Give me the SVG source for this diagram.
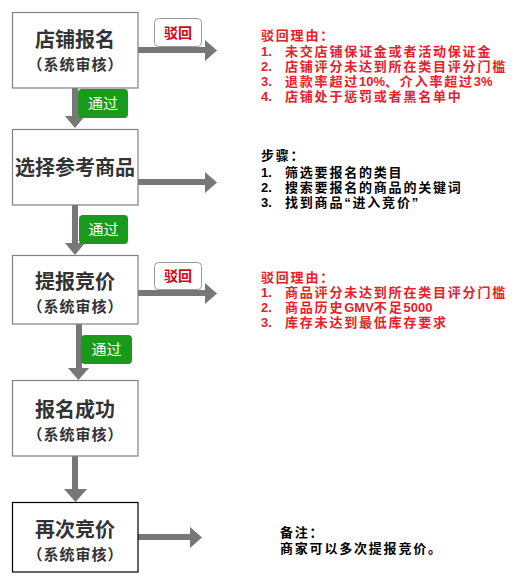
<svg xmlns="http://www.w3.org/2000/svg" width="521" height="584" viewBox="0 0 521 584">
<style>
.box{fill:#fff;stroke:#808080;stroke-width:1.2}
.box5{fill:#fff;stroke:#000;stroke-width:1.2}
.title{font-family:"Liberation Sans","Noto Sans CJK SC",sans-serif;font-weight:bold;font-size:20px;fill:#333;text-anchor:middle}
.sub{font-family:"Liberation Sans","Noto Sans CJK SC",sans-serif;font-weight:bold;font-size:15px;letter-spacing:1px;fill:#333;text-anchor:middle}
.conn{stroke:#777;stroke-width:6;fill:none}
.head{fill:#777}
.rej{fill:#fff;stroke:#999;stroke-width:1}
.rejt{font-family:"Liberation Sans","Noto Sans CJK SC",sans-serif;font-weight:bold;font-size:14px;fill:#d9001b;text-anchor:middle}
.pass{fill:#1a9a1a}
.passt{font-family:"Liberation Sans","Noto Sans CJK SC",sans-serif;font-size:15px;fill:#fff;text-anchor:middle}
.note{font-family:"Liberation Sans","Noto Sans CJK SC",sans-serif;font-weight:bold;font-size:13px}
.c{letter-spacing:1.8px}
.l{letter-spacing:0}
.red{fill:#e8202a}
.blk{fill:#000}
</style>
<g id="connectors">
<line class="conn" x1="138" y1="50" x2="205" y2="50"/><polygon class="head" points="205,40 217,50.5 205,61"/>
<line class="conn" x1="75" y1="88" x2="75" y2="116"/><polygon class="head" points="65,116 85,116 75,128"/>
<line class="conn" x1="138" y1="182" x2="205" y2="182"/><polygon class="head" points="205,172 217,182.5 205,193"/>
<line class="conn" x1="75" y1="205" x2="75" y2="243"/><polygon class="head" points="65,243 85,243 75,255"/>
<line class="conn" x1="138" y1="293" x2="205" y2="293"/><polygon class="head" points="205,283 217,293.5 205,304"/>
<line class="conn" x1="79" y1="324" x2="79" y2="368"/><polygon class="head" points="68,368 89,368 78.5,380"/>
<line class="conn" x1="75" y1="456" x2="75" y2="489"/><polygon class="head" points="64,489 87,489 75.5,502"/>
<line class="conn" x1="138" y1="537" x2="190" y2="537"/><polygon class="head" points="190,527 202,537.5 190,548"/>
</g>
<g id="badges">
<rect class="rej" x="154.5" y="18.5" width="47" height="28" rx="4"/><text class="rejt" x="178" y="38">驳回</text>
<rect class="pass" x="78" y="89" width="50" height="29" rx="4"/><text class="passt" x="103" y="109">通过</text>
<rect class="pass" x="79" y="215" width="49" height="29" rx="4"/><text class="passt" x="103.5" y="235">通过</text>
<rect class="rej" x="154.5" y="262.5" width="47" height="27" rx="4"/><text class="rejt" x="178" y="281">驳回</text>
<rect class="pass" x="81" y="335" width="51" height="29" rx="4"/><text class="passt" x="106.5" y="355">通过</text>
</g>
<g id="n1"><rect class="box" x="12.5" y="12.5" width="125.5" height="75.5"/><text class="title" x="75" y="47">店铺报名</text><text class="sub" x="75.5" y="70">（系统审核）</text></g>
<g id="n2"><rect class="box" x="12.5" y="129.5" width="125.5" height="75.5"/><text class="title" x="75" y="175">选择参考商品</text></g>
<g id="n3"><rect class="box" x="12.5" y="255.5" width="125.5" height="68.5"/><text class="title" x="75" y="289">提报竞价</text><text class="sub" x="75.5" y="312">（系统审核）</text></g>
<g id="n4"><rect class="box" x="12.5" y="380.5" width="125.5" height="75.5"/><text class="title" x="75" y="417">报名成功</text><text class="sub" x="75.5" y="440">（系统审核）</text></g>
<g id="n5"><rect class="box5" x="12.5" y="502.5" width="125.5" height="69.5"/><text class="title" x="75" y="537">再次竞价</text><text class="sub" x="75.5" y="560">（系统审核）</text></g>
<g id="note1" class="note red">
<text x="261" y="40" class="c">驳回理由：</text>
<text y="56"><tspan x="261">1.</tspan><tspan x="285" class="c">未交店铺保证金或者活动保证金</tspan></text>
<text y="71"><tspan x="261">2.</tspan><tspan x="285" class="c">店铺评分未达到所在类目评分门槛</tspan></text>
<text y="86"><tspan x="261">3.</tspan><tspan x="285" class="c">退款率超过<tspan class="l">10%</tspan>、介入率超过<tspan class="l">3%</tspan></tspan></text>
<text y="101"><tspan x="261">4.</tspan><tspan x="285" class="c">店铺处于惩罚或者黑名单中</tspan></text>
</g>
<g id="note2" class="note blk">
<text x="261" y="160" class="c">步骤：</text>
<text y="177"><tspan x="261">1.</tspan><tspan x="285" class="c">筛选要报名的类目</tspan></text>
<text y="192"><tspan x="261">2.</tspan><tspan x="285" class="c">搜索要报名的商品的关键词</tspan></text>
<text y="207"><tspan x="261">3.</tspan><tspan x="285" class="c">找到商品“进入竞价”</tspan></text>
</g>
<g id="note3" class="note red">
<text x="261" y="282" class="c">驳回理由：</text>
<text y="297"><tspan x="261">1.</tspan><tspan x="285" class="c">商品评分未达到所在类目评分门槛</tspan></text>
<text y="312"><tspan x="261">2.</tspan><tspan x="285" class="c">商品历史<tspan class="l">GMV</tspan>不足<tspan class="l">5000</tspan></tspan></text>
<text y="327"><tspan x="261">3.</tspan><tspan x="285" class="c">库存未达到最低库存要求</tspan></text>
</g>
<g id="note4" class="note blk">
<text x="280" y="537" class="c">备注：</text>
<text x="280" y="553" class="c">商家可以多次提报竞价。</text>
</g>
</svg>
